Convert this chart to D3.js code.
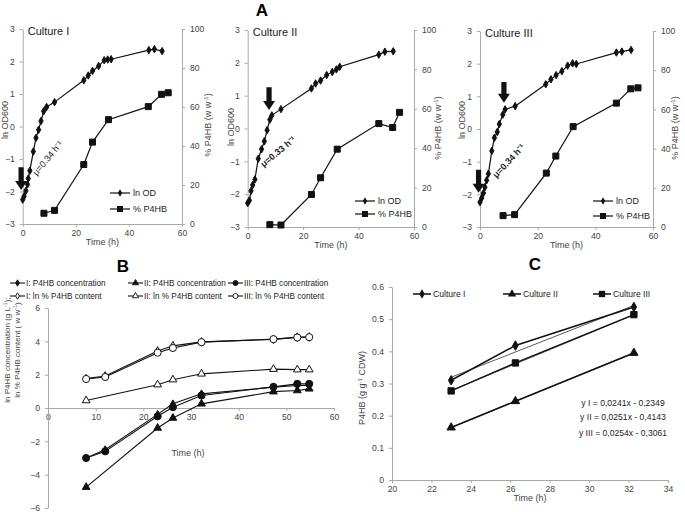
<!DOCTYPE html>
<html><head><meta charset="utf-8">
<script src="https://cdn.jsdelivr.net/npm/d3@7"></script>
<style>
body{margin:0;background:#fff}
text{font-family:"Liberation Sans",Arial,sans-serif}
</style>
</head><body>
<svg id="c" width="685" height="512"></svg>
<script>
// ---------- DATA ----------
// Panel A: ln OD600 per culture
const odTimeI  = [0, 0.5, 1.2, 1.8, 2.1, 2.7, 4.0, 5.0, 6.0, 6.9, 7.9, 9.0, 12, 23, 24.7, 26.3, 28.6, 30.7, 32, 33.3, 47.5, 49.6, 52.5];
const odI      = [-2.25, -2.15, -1.98, -1.78, -1.6, -1.36, -0.77, -0.35, -0.1, 0.17, 0.47, 0.6, 0.75, 1.42, 1.57, 1.71, 1.86, 2.04, 2.06, 2.07, 2.35, 2.38, 2.32];
const odTimeII = [0, 0.6, 1.2, 1.8, 2.6, 3.8, 5.0, 6.0, 7.0, 8.0, 8.7, 12, 23, 24.5, 26.3, 28.5, 30.5, 32, 33.2, 47.3, 49.5, 52.5];
const odII     = [-2.27, -2.19, -1.9, -1.72, -1.55, -0.92, -0.63, -0.39, -0.05, 0.27, 0.4, 0.59, 1.22, 1.37, 1.46, 1.63, 1.72, 1.8, 1.88, 2.25, 2.34, 2.35];
const odTimeIII= [0, 0.6, 1.2, 1.7, 2.3, 2.9, 4.1, 5.0, 6.0, 6.7, 7.9, 8.7, 12.2, 22.8, 24.6, 26.4, 28.4, 30.4, 32.1, 33.4, 47.3, 49.2, 52.4];
const odIII    = [-2.24, -2.11, -1.96, -1.78, -1.57, -1.37, -0.67, -0.27, -0.09, 0.15, 0.44, 0.6, 0.7, 1.37, 1.52, 1.65, 1.77, 1.94, 2.01, 1.99, 2.34, 2.37, 2.42];
// Panel A: % P4HB (w/w)
const phbTime  = [8, 12, 23, 26.3, 32.3, 47.3, 52.3, 54.8];
const phbI     = [5.5, 7, 30.5, 42, 53.5, 60.2, 66.5, 67.3];
const phbII    = [1.2, 1.0, 16.5, 25, 39.5, 52.5, 50.5, 58.2];
const phbIII   = [5.8, 6.3, 27.5, 36.2, 51.2, 63.2, 70.5, 71];
const cultureNames = ["Culture I", "Culture II", "Culture III"];
const muLabels = ["μ=0.34 h⁻¹", "μ=0.33 h⁻¹", "μ=0.34 h⁻¹"];
const odTicks = [-3, -2, -1, 0, 1, 2, 3];
const phbTicks = [0, 20, 40, 60, 80, 100];
const timeTicksA = [0, 20, 40, 60];

// Panel B
const bTime     = [8, 12, 23, 26.2, 32.2, 47.3, 52.3, 54.8];
const bTimeII   = [8, 23, 26.2, 32.2, 47.3, 52.3, 54.8];
const bConcI    = [-3.0, -2.5, -0.38, 0.25, 0.85, 1.25, 1.35, 1.35];
const bConcII   = [-4.75, -1.2, -0.6, 0.25, 0.98, 1.05, 1.15];
const bConcIII  = [-3.0, -2.6, -0.5, 0.05, 0.75, 1.27, 1.45, 1.45];
const bPctI     = [1.76, 1.92, 3.42, 3.73, 3.97, 4.12, 4.25, 4.26];
const bPctII    = [0.45, 1.4, 1.7, 2.05, 2.33, 2.3, 2.3];
const bPctIII   = [1.74, 1.86, 3.32, 3.6, 3.95, 4.13, 4.23, 4.25];
const bLegend = ["I: P4HB concentration", "II: P4HB concentration", "III: P4HB concentration",
                 "I: ln % P4HB content", "II: ln % P4HB content", "III: ln % P4HB content"];
const bYTicks = [-6, -4, -2, 0, 2, 4, 6];
const bXTicks = [0, 10, 20, 30, 40, 50, 60];

// Panel C
const cTime  = [23, 26.26, 32.27];
const cI     = [0.31, 0.418, 0.538];
const cII    = [0.163, 0.245, 0.395];
const cIII   = [0.277, 0.364, 0.514];
const cSlope = [0.0241, 0.0251, 0.0254];
const cIntercept = [-0.2349, -0.4143, -0.3061];
const cEquations = ["y I = 0,0241x - 0,2349", "y II = 0,0251x - 0,4143", "y III = 0,0254x - 0,3061"];
const cYTicks = [0, 0.1, 0.2, 0.3, 0.4, 0.5, 0.6];
const cXTicks = [20, 22, 24, 26, 28, 30, 32, 34];

// ---------- DRAW ----------
const svg = d3.select("#c");
const AX = "#a8a8a8", TXT = "#444";
const intFmt = d3.format("d");

function styleAxis(g) {
  g.select(".domain").attr("stroke", AX);
  g.selectAll(".tick line").attr("stroke", AX);
  g.selectAll(".tick text").attr("fill", TXT).style("font-size", "8.6px").style("font-family", "Liberation Sans, Arial, sans-serif");
}
const sym = (type, size) => d3.symbol().type(type).size(size);

function series(g, x, y, xs, ys, type, size, fill, lw) {
  const pts = xs.map((t, i) => [t, ys[i]]);
  g.append("path").datum(pts).attr("fill", "none").attr("stroke", "#111").attr("stroke-width", lw || 1.2)
    .attr("d", d3.line().x(d => x(d[0])).y(d => y(d[1])));
  g.selectAll(null).data(pts).enter().append("path")
    .attr("transform", d => `translate(${x(d[0])},${y(d[1])})`)
    .attr("d", sym(type, size)()).attr("fill", fill).attr("stroke", "#111").attr("stroke-width", 1);
}

function arrow(g, cx, yTop, yTip) {
  const hw = 6, sw = 2.6, hl = 9;
  g.append("path").attr("fill", "#111")
    .attr("d", `M${cx - sw},${yTop} L${cx + sw},${yTop} L${cx + sw},${yTip - hl} L${cx + hw},${yTip - hl} L${cx},${yTip} L${cx - hw},${yTip - hl} L${cx - sw},${yTip - hl} Z`);
}

const panelsA = [
  {x0: 22.7, x1: 182, yt: 29, yb: 224, t: odTimeI, od: odI, p: phbI, leg: [110, 193, 209], yl: 5, yr: 211, ylc: 120, yrc: 125,
   arrows: [[-0.6, -1.25, -1.95]], mu: [50, 160, -50], muBold: false},
  {x0: 247.7, x1: 414, yt: 30, yb: 227, t: odTimeII, od: odII, p: phbII, leg: [355, 201, 214], yl: 231, yr: 441, ylc: 127, yrc: 128,
   arrows: [[7.7, 1.26, 0.56]], mu: [280, 154, -40], muBold: true},
  {x0: 480, x1: 653, yt: 31, yb: 227, t: odTimeIII, od: odIII, p: phbIII, leg: [593, 201, 216], yl: 462, yr: 678, ylc: 120, yrc: 128,
   arrows: [[-0.5, -1.25, -1.95], [8.3, 1.44, 0.8]], mu: [511, 163, -47], muBold: true}
];

panelsA.forEach((c, i) => {
  const g = svg.append("g");
  const x = d3.scaleLinear().domain([0, 60]).range([c.x0, c.x1]);
  const y = d3.scaleLinear().domain([-3, 3]).range([c.yb, c.yt]);
  const y2 = d3.scaleLinear().domain([0, 100]).range([c.yb, c.yt]);
  g.append("g").attr("transform", `translate(0,${c.yb})`)
    .call(d3.axisBottom(x).tickValues(timeTicksA).tickFormat(intFmt).tickSize(3).tickPadding(3).tickSizeOuter(0)).call(styleAxis);
  g.append("g").attr("transform", `translate(${c.x0},0)`)
    .call(d3.axisLeft(y).tickValues(odTicks).tickFormat(intFmt).tickSize(3).tickPadding(5).tickSizeOuter(0)).call(styleAxis);
  g.append("g").attr("transform", `translate(${c.x1},0)`)
    .call(d3.axisRight(y2).tickValues(phbTicks).tickFormat(intFmt).tickSize(3).tickPadding(5).tickSizeOuter(0)).call(styleAxis);
  g.append("text").attr("x", c.x0 + 5).attr("y", c.yt + 6).attr("font-size", 11).attr("fill", "#222").text(cultureNames[i]);
  g.append("text").attr("x", (c.x0 + c.x1) / 2).attr("y", c.yb + 21).attr("text-anchor", "middle").attr("font-size", 9).attr("fill", TXT).text("Time (h)");
  g.append("text").attr("transform", `translate(${c.yl + 3},${c.ylc}) rotate(-90)`).attr("text-anchor", "middle").attr("font-size", 9).attr("fill", TXT).text("ln OD600");
  g.append("text").attr("transform", `translate(${c.yr},${c.yrc}) rotate(-90)`).attr("text-anchor", "middle").attr("font-size", 9).attr("fill", TXT)
    .html('% P4HB (w w<tspan dy="-3" font-size="6">-1</tspan><tspan dy="3">)</tspan>');
  series(g, x, y2, phbTime, c.p, d3.symbolSquare, 36, "#111", 1.2);
  series(g, x, y, c.t, c.od, d3.symbolDiamond, 16, "#111", 1.2);
  c.arrows.forEach(a => arrow(g, x(a[0]), y(a[1]), y(a[2])));
  g.append("text").attr("transform", `translate(${c.mu[0]},${c.mu[1]}) rotate(${c.mu[2]})`).attr("text-anchor", "middle")
    .attr("font-size", 9).attr("font-weight", c.muBold ? "bold" : "normal").attr("fill", "#222").text(muLabels[i]);
  // legend
  const lx = c.leg[0];
  [["ln OD", d3.symbolDiamond, 16, c.leg[1]], ["% P4HB", d3.symbolSquare, 36, c.leg[2]]].forEach(L => {
    g.append("line").attr("x1", lx).attr("x2", lx + 20).attr("y1", L[3]).attr("y2", L[3]).attr("stroke", "#111").attr("stroke-width", 1.2);
    g.append("path").attr("transform", `translate(${lx + 10},${L[3]})`).attr("d", sym(L[1], L[2])()).attr("fill", "#111");
    g.append("text").attr("x", lx + 23).attr("y", L[3] + 3).attr("font-size", 9).attr("fill", "#222").text(L[0]);
  });
});

svg.append("text").attr("x", 262).attr("y", 16).attr("text-anchor", "middle").attr("font-size", 17).attr("font-weight", "bold").text("A");
svg.append("text").attr("x", 123).attr("y", 272).attr("text-anchor", "middle").attr("font-size", 17).attr("font-weight", "bold").text("B");
svg.append("text").attr("x", 535).attr("y", 270).attr("text-anchor", "middle").attr("font-size", 17).attr("font-weight", "bold").text("C");

// ---------- Panel B ----------
{
  const g = svg.append("g");
  const x = d3.scaleLinear().domain([0, 60]).range([48, 334]);
  const y = d3.scaleLinear().domain([-6, 6]).range([508, 308]);
  g.append("g").attr("transform", `translate(0,${y(0)})`)
    .call(d3.axisBottom(x).tickValues(bXTicks).tickFormat(intFmt).tickSize(3).tickPadding(3).tickSizeOuter(0)).call(styleAxis);
  g.append("g").attr("transform", `translate(48,0)`)
    .call(d3.axisLeft(y).tickValues(bYTicks).tickFormat(intFmt).tickSize(3).tickPadding(5).tickSizeOuter(0)).call(styleAxis);
  g.append("text").attr("x", 188).attr("y", 456).attr("text-anchor", "middle").attr("font-size", 9).attr("fill", TXT).text("Time (h)");
  g.append("text").attr("transform", `translate(10,350) rotate(-90)`).attr("text-anchor", "middle").attr("font-size", 8).attr("fill", TXT)
    .html('ln P4HB concentration  (g L<tspan dy="-3" font-size="5.5">-1</tspan><tspan dy="3">);</tspan>');
  g.append("text").attr("transform", `translate(20,350) rotate(-90)`).attr("text-anchor", "middle").attr("font-size", 8).attr("fill", TXT)
    .html('ln % P4HB content ( w w<tspan dy="-3" font-size="5.5">-1</tspan><tspan dy="3">)</tspan>');
  const defs = [
    [bTime, bPctI, d3.symbolDiamond, 22, "#fff"],
    [bTime, bPctIII, d3.symbolCircle, 40, "#fff"],
    [bTimeII, bPctII, d3.symbolTriangle, 26, "#fff"],
    [bTime, bConcI, d3.symbolDiamond, 18, "#111"],
    [bTimeII, bConcII, d3.symbolTriangle, 26, "#111"],
    [bTime, bConcIII, d3.symbolCircle, 40, "#111"]
  ];
  defs.forEach(d => series(g, x, y, d[0], d[1], d[2], d[3], d[4], 1.1));
  const legSyms = [[d3.symbolDiamond, 12, "#111"], [d3.symbolTriangle, 16, "#111"], [d3.symbolCircle, 20, "#111"],
                   [d3.symbolDiamond, 12, "#fff"], [d3.symbolTriangle, 16, "#fff"], [d3.symbolCircle, 20, "#fff"]];
  const colX = [10, 128, 228], rowY = [283, 296];
  bLegend.forEach((t, i) => {
    const lx = colX[i % 3], ly = rowY[Math.floor(i / 3)];
    g.append("line").attr("x1", lx).attr("x2", lx + 15).attr("y1", ly).attr("y2", ly).attr("stroke", "#111").attr("stroke-width", 1.1);
    g.append("path").attr("transform", `translate(${lx + 7.5},${ly})`).attr("d", sym(legSyms[i][0], legSyms[i][1])())
      .attr("fill", legSyms[i][2]).attr("stroke", "#111").attr("stroke-width", 0.9);
    g.append("text").attr("x", lx + 16).attr("y", ly + 3).attr("font-size", 8.2).attr("fill", "#222").text(t);
  });
}

// ---------- Panel C ----------
{
  const g = svg.append("g");
  const x = d3.scaleLinear().domain([20, 34]).range([392, 668]);
  const y = d3.scaleLinear().domain([0, 0.6]).range([480, 287]);
  g.append("g").attr("transform", `translate(0,480)`)
    .call(d3.axisBottom(x).tickValues(cXTicks).tickFormat(intFmt).tickSize(3).tickPadding(3).tickSizeOuter(0)).call(styleAxis);
  g.append("g").attr("transform", `translate(392,0)`)
    .call(d3.axisLeft(y).tickValues(cYTicks).tickFormat(d => d === 0 ? "0" : d3.format(".1f")(d)).tickSize(3).tickPadding(5).tickSizeOuter(0)).call(styleAxis);
  g.append("text").attr("x", 530).attr("y", 501).attr("text-anchor", "middle").attr("font-size", 9).attr("fill", TXT).text("Time (h)");
  g.append("text").attr("transform", `translate(365,388) rotate(-90)`).attr("text-anchor", "middle").attr("font-size", 9).attr("fill", TXT)
    .html('P4HB (g g<tspan dy="-3" font-size="6">-1</tspan><tspan dy="3"> CDW)</tspan>');
  // trendlines
  [0, 1, 2].forEach(k => {
    const t0 = cTime[0], t1 = cTime[cTime.length - 1];
    g.append("line").attr("x1", x(t0)).attr("x2", x(t1))
      .attr("y1", y(cSlope[k] * t0 + cIntercept[k])).attr("y2", y(cSlope[k] * t1 + cIntercept[k]))
      .attr("stroke", "#333").attr("stroke-width", 0.8);
  });
  const cs = [[cI, d3.symbolDiamond, 26], [cII, d3.symbolTriangle, 30], [cIII, d3.symbolSquare, 40]];
  cs.forEach(s => series(g, x, y, cTime, s[0], s[1], s[2], "#111", 1.5));
  const legX = [413, 503, 593];
  cultureNames.forEach((n, i) => {
    const lx = legX[i], ly = 294;
    g.append("line").attr("x1", lx).attr("x2", lx + 18).attr("y1", ly).attr("y2", ly).attr("stroke", "#111").attr("stroke-width", 1.5);
    g.append("path").attr("transform", `translate(${lx + 9},${ly})`).attr("d", sym(cs[i][1], cs[i][2])()).attr("fill", "#111");
    g.append("text").attr("x", lx + 20).attr("y", ly + 3).attr("font-size", 8.6).attr("fill", "#222").text(n);
  });
  cEquations.forEach((e, i) => {
    g.append("text").attr("x", 623).attr("y", [406, 420, 436][i]).attr("text-anchor", "middle").attr("font-size", 8.6).attr("fill", "#222").text(e);
  });
}
</script>
</body></html>
